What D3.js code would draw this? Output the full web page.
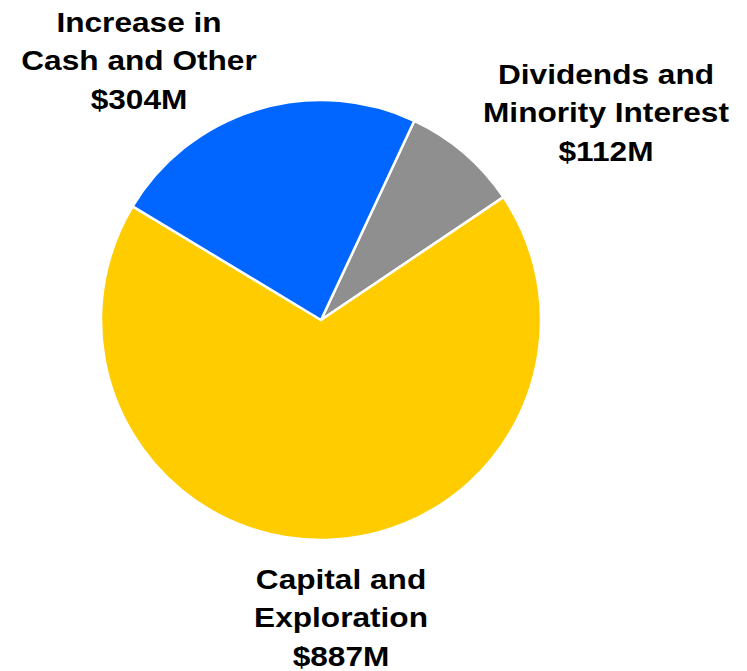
<!DOCTYPE html>
<html>
<head>
<meta charset="utf-8">
<script src="https://cdn.jsdelivr.net/npm/d3@7"></script>
<style>
  html, body { margin: 0; padding: 0; background: #ffffff; }
  svg { display: block; }
</style>
</head>
<body>
<svg id="chart" width="747" height="671"></svg>
<script>
// ---- Data ----
const categories = ["Dividends and Minority Interest", "Capital and Exploration", "Increase in Cash and Other"];
const values = [112, 887, 304];
const valueLabels = ["$112M", "$887M", "$304M"];
const labelLines = [
  ["Dividends and", "Minority Interest", "$112M"],
  ["Capital and", "Exploration", "$887M"],
  ["Increase in", "Cash and Other", "$304M"]
];
const colors = ["#8F8F8F", "#FFCC00", "#0066FF"];

// ---- Layout ----
const cx = 321, cy = 320, radius = 220;
const startDeg = 25.1;
const labelPos = [
  { x: 606, y: 84 },
  { x: 341, y: 589 },
  { x: 139, y: 32 }
];
const lineGap = 38.5;

const svg = d3.select("#chart");

const pie = d3.pie()
  .sort(null)
  .value(d => d.value)
  .startAngle(startDeg * Math.PI / 180)
  .endAngle(startDeg * Math.PI / 180 + 2 * Math.PI);

const arc = d3.arc().innerRadius(0).outerRadius(radius);

const data = categories.map((c, i) => ({ name: c, value: values[i], color: colors[i], lines: labelLines[i] }));

const g = svg.append("g").attr("transform", `translate(${cx},${cy})`);
g.selectAll("path")
  .data(pie(data))
  .join("path")
  .attr("d", arc)
  .attr("fill", d => d.data.color)
  .attr("stroke", "#ffffff")
  .attr("stroke-width", 2.5)
  .attr("stroke-linejoin", "round");

const labels = svg.selectAll("g.label")
  .data(data)
  .join("g")
  .attr("class", "label")
  .attr("transform", (d, i) => `translate(${labelPos[i].x},${labelPos[i].y}) scale(1.11,1)`);

labels.each(function(d) {
  const t = d3.select(this).append("text")
    .attr("text-anchor", "middle")
    .attr("font-family", "'Liberation Sans', Arial, sans-serif")
    .attr("font-weight", "bold")
    .attr("font-size", 28.5)
    .attr("fill", "#000000");
  d.lines.forEach((line, j) => {
    t.append("tspan").attr("x", 0).attr("y", j * lineGap).text(line);
  });
});
</script>
</body>
</html>
